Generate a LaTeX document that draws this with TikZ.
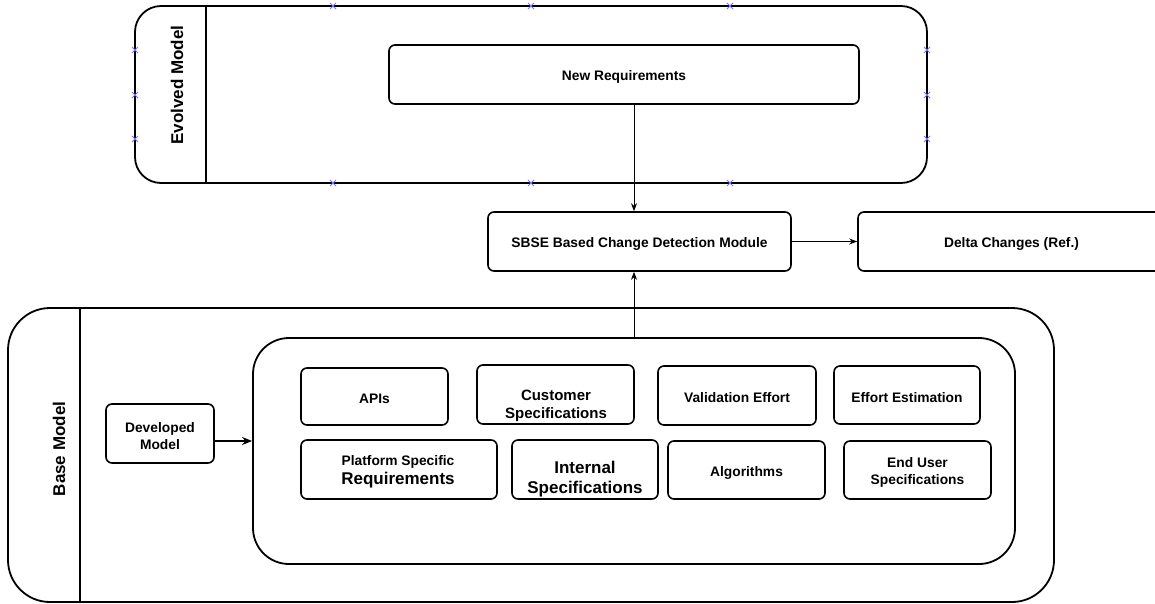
\documentclass[tikz,border=0pt]{standalone}
\usepackage{fontspec}
\setmainfont{Liberation Sans}
\usetikzlibrary{arrows.meta}
\definecolor{handle}{RGB}{120,120,250}
\tikzset{
  lbl/.style={font=\bfseries\fontsize{13.8}{16.5}\selectfont, align=center, inner sep=0pt},
  big/.style={font=\bfseries\fontsize{17}{20}\selectfont, align=center, inner sep=0pt},
  mid/.style={font=\bfseries\fontsize{15}{18}\selectfont, align=center, inner sep=0pt},
  box/.style={draw, line width=1.6pt, rounded corners=6pt, inner sep=0pt},
  txt/.style={label={[lbl, yshift=-2.5pt]center:#1}},
  panel/.style={draw, line width=1.8pt},
  arr/.style={line width=0.9pt, -{Stealth[length=8pt,width=6pt]}},
  thickarr/.style={line width=1.8pt, -{Stealth[length=10pt,width=8pt]}},
  hmark/.style={handle, line width=1pt}
}
\newcommand{\hcross}[2]{\draw[hmark] (#1-3,#2-3) -- (#1+3,#2+3) (#1-3,#2+3) -- (#1+3,#2-3);}
\begin{document}
\begin{tikzpicture}[x=1pt,y=-1pt]
\useasboundingbox (0,0) rectangle (1155,603);

% evolved model lane
\draw[panel, rounded corners=26pt] (135,6) rectangle (927,183);
\draw[panel] (206,6) -- (206,183);
\node[big, rotate=90] (evolvedlbl) at (177,85) {Evolved Model};
\foreach \hx in {333,531,730} { \hcross{\hx}{6} \hcross{\hx}{183} }
\foreach \hy in {50,95,139} { \hcross{135}{\hy} \hcross{927}{\hy} }

\node[box, minimum width=470pt, minimum height=59pt, txt={New Requirements}] (newreq) at (624,74.5) {};

% detection module and result
\node[box, minimum width=303pt, minimum height=59pt, txt={SBSE Based Change Detection Module}] (sbse) at (639.5,241.5) {};
\node[box, minimum width=307pt, minimum height=59pt, txt={Delta Changes (Ref.)}] (delta) at (1011.5,241.5) {};

% base model lane
\draw[panel, rounded corners=42pt] (8,308) rectangle (1054,602);
\draw[panel] (80,308) -- (80,602);
\node[big, rotate=90] (baselbl) at (59,449) {Base Model};

\node[box, minimum width=108pt, minimum height=59pt, txt={Developed\\Model}] (devmodel) at (160,433.5) {};
\node[draw, line width=1.8pt, rounded corners=36pt, minimum width=762pt, minimum height=226pt] (inner) at (634,451) {};

% artefacts of the base model
\node[box, minimum width=147pt, minimum height=57pt, txt={APIs}] (apis) at (374.5,396.5) {};
\node[box, minimum width=157pt, minimum height=59pt] (cust) at (555.5,394.5) {};
\node[mid] (custtxt) at (556,406) {Customer\\Specifications};
\node[box, minimum width=158pt, minimum height=59pt, txt={Validation Effort}] (valid) at (737,395.5) {};
\node[box, minimum width=146pt, minimum height=58pt, txt={Effort Estimation}] (effest) at (907,395) {};

\node[box, minimum width=196pt, minimum height=59pt] (plat) at (399,469.5) {};
\node[lbl] (plattop) at (398,462) {Platform Specific};
\node[big] (platbot) at (398,480) {Requirements};
\node[box, minimum width=146pt, minimum height=59pt] (internal) at (585,469.5) {};
\node[big] (internaltxt) at (585,479) {Internal\\Specifications};
\node[box, minimum width=157pt, minimum height=58pt, txt={Algorithms}] (algo) at (746.5,470) {};
\node[box, minimum width=147pt, minimum height=58pt, txt={End User\\Specifications}] (enduser) at (917.5,470) {};

% connectors
\draw[arr] (newreq.south -| inner.north) -- (sbse.north -| inner.north);
\draw[arr] (inner.north) -- (sbse.south -| inner.north);
\draw[arr] (sbse.east) -- (delta.west);
\draw[thickarr] ([yshift=-7.5pt]devmodel.east) -- ([yshift=-7.5pt]devmodel.east -| inner.west);
\end{tikzpicture}
\end{document}
